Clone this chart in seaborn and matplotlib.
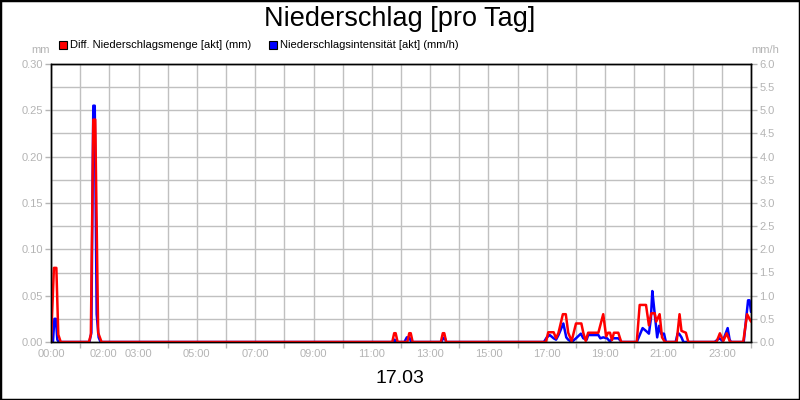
import numpy as np
import pandas as pd
import matplotlib
matplotlib.use("Agg")
import matplotlib.pyplot as plt
import matplotlib.transforms as mtransforms
from matplotlib.patches import Rectangle
from matplotlib.ticker import FuncFormatter
import seaborn as sns

# ---------------- data ----------------
title = "Niederschlag [pro Tag]"
date_label = "17.03"
red_label = "Diff. Niederschlagsmenge [akt] (mm)"
blue_label = "Niederschlagsintensität [akt] (mm/h)"
left_unit = "mm"
right_unit = "mm/h"

red_minutes = [0, 6, 11, 15, 20,
               78, 82, 87, 91, 97, 104,
               702, 706, 709, 713,
               733, 737, 740, 744,
               802, 806, 809, 813,
               1018, 1023, 1034, 1039, 1044, 1053, 1059, 1064, 1071, 1080, 1091,
               1095, 1100, 1105, 1126, 1136, 1142, 1146, 1150, 1154, 1158, 1167, 1173,
               1205, 1211, 1224, 1230, 1235, 1242, 1245, 1252, 1257, 1263,
               1287, 1293, 1297, 1306, 1311,
               1369, 1376, 1383, 1390, 1397,
               1424, 1432, 1440]
red_mm = [0, 0.08, 0.08, 0.008, 0,
          0, 0.008, 0.24, 0.24, 0.01, 0,
          0, 0.0095, 0.0095, 0,
          0, 0.0095, 0.0095, 0,
          0, 0.0095, 0.0095, 0,
          0, 0.0105, 0.0105, 0.004, 0.01, 0.03, 0.03, 0.01, 0.001, 0.02, 0.02,
          0.01, 0.001, 0.01, 0.01, 0.03, 0.006, 0.01, 0.01, 0.002, 0.01, 0.01, 0,
          0, 0.04, 0.04, 0.018, 0.031, 0.031, 0.022, 0.03, 0.005, 0,
          0, 0.03, 0.012, 0.01, 0,
          0, 0.0094, 0.001, 0.0094, 0,
          0, 0.03, 0.022]

blue_minutes = [0, 4, 7, 10, 13, 16,
                79, 83, 87, 90, 94, 98, 102,
                703, 707, 710,
                727, 732, 737, 741,
                803, 807, 810, 813,
                1014, 1020, 1026, 1034, 1039, 1044, 1054, 1060, 1064, 1071, 1080, 1090,
                1095, 1102, 1105, 1126, 1130, 1136, 1144, 1150, 1155, 1167, 1174,
                1205, 1211, 1217, 1225, 1230, 1234, 1237, 1240, 1244, 1247, 1251, 1255, 1261, 1265,
                1285, 1289, 1292, 1297, 1301,
                1365, 1375, 1382, 1392, 1396, 1399,
                1425, 1434, 1437, 1440]
blue_mmh = [0, 0, 0.5, 0.5, 0.05, 0,
            0, 0.2, 5.1, 5.1, 0.6, 0.1, 0,
            0, 0.05, 0,
            0, 0.1, 0.1, 0,
            0, 0.09, 0.09, 0,
            0, 0.1, 0.15, 0.08, 0.05, 0.15, 0.4, 0.1, 0.05, 0, 0.08, 0.18,
            0.08, 0.05, 0.15, 0.15, 0.08, 0.1, 0.08, 0.01, 0.08, 0.08, 0,
            0, 0.15, 0.3, 0.23, 0.18, 0.5, 1.1, 0.8, 0.4, 0.1, 0.35, 0.18, 0.18, 0,
            0, 0.18, 0.18, 0.1, 0,
            0, 0.08, 0.02, 0.3, 0.05, 0,
            0, 0.9, 0.9, 0.65]

x_tick_hours = [0, 2, 3, 5, 7, 9, 11, 13, 15, 17, 19, 21, 23]
x_tick_labels = ["00:00", "02:00", "03:00", "05:00", "07:00", "09:00", "11:00",
                 "13:00", "15:00", "17:00", "19:00", "21:00", "23:00"]
left_ticks = [0.0, 0.05, 0.10, 0.15, 0.20, 0.25, 0.30]
right_ticks = [0.0, 0.5, 1.0, 1.5, 2.0, 2.5, 3.0, 3.5, 4.0, 4.5, 5.0, 5.5, 6.0]

# ---------------- style ----------------
sns.set_theme(style="white")
plt.rcParams["font.family"] = ["Liberation Sans", "DejaVu Sans"]

RED = "#ff0000"
BLUE = "#0000ff"
GRAY = "#b4b4b4"
GRID = "#c0c0c0"

red_df = pd.DataFrame({"hour": np.array(red_minutes) / 60.0, "value": red_mm})
blue_df = pd.DataFrame({"hour": np.array(blue_minutes) / 60.0, "value": blue_mmh})

fig = plt.figure(figsize=(8, 4), dpi=100)
fig.patch.set_facecolor("white")
ax = fig.add_axes([51 / 800, 58 / 400, 700 / 800, 278 / 400])
ax2 = ax.twinx()

# red (left axis) drawn on top of blue (right axis)
ax.set_zorder(ax2.get_zorder() + 1)
ax.patch.set_visible(False)
ax2.patch.set_visible(True)
ax2.patch.set_facecolor("white")

sns.lineplot(data=blue_df, x="hour", y="value", ax=ax2, color=BLUE, linewidth=1.8,
             sort=False, estimator=None)
sns.lineplot(data=red_df, x="hour", y="value", ax=ax, color=RED, linewidth=1.8,
             sort=False, estimator=None)

ax.set_xlim(0, 24)
ax.set_ylim(0, 0.30)
ax2.set_ylim(0, 6.0)
for a in (ax, ax2):
    a.set_xlabel("")
    a.set_ylabel("")

# x ticks
ax.set_xticks(x_tick_hours)
ax.set_xticklabels(x_tick_labels)
minor_hours = [h for h in range(1, 25) if h not in x_tick_hours]
ax.set_xticks(minor_hours, minor=True)
ax.tick_params(axis="x", which="major", length=0, pad=5, labelcolor=GRAY, labelsize=8)
ax.tick_params(axis="x", which="minor", length=4, width=1, color=GRAY, bottom=True)
for lbl in ax.get_xticklabels():
    if lbl.get_text() == "02:00":
        lbl.set_transform(lbl.get_transform() +
                          mtransforms.ScaledTranslation(-0.06, 0, fig.dpi_scale_trans))

# y ticks
ax.set_yticks(left_ticks)
ax.yaxis.set_major_formatter(FuncFormatter(lambda v, p: f"{v:.2f}"))
ax.tick_params(axis="y", which="major", length=4, width=1, color=GRAY, labelcolor=GRAY,
               labelsize=8, pad=2, left=True)
ax2.set_yticks(right_ticks)
ax2.yaxis.set_major_formatter(FuncFormatter(lambda v, p: f"{v:.1f}"))
ax2.tick_params(axis="y", which="major", length=4, width=1, color=GRAY, labelcolor=GRAY,
                labelsize=8, pad=2, right=True)

# grid drawn on lower axes (behind both lines)
ax.grid(False)
ax2.xaxis.set_visible(True)
ax2.tick_params(axis="x", which="both", bottom=False, top=False,
                labelbottom=False, labeltop=False)
ax2.grid(True, axis="x", which="both", color=GRID, linewidth=1)
ax2.grid(True, axis="y", which="major", color=GRID, linewidth=1)

for a in (ax, ax2):
    for s in a.spines.values():
        s.set_visible(True)
        s.set_color("black")
        s.set_linewidth(1)

# texts
fig.text(0.5, 1 - 25.5 / 400, title, ha="center", va="baseline", fontsize=19.5, color="black")
fig.text(0.5, 1 - 383 / 400, date_label, ha="center", va="baseline", fontsize=14, color="black")
fig.text(40.5 / 800, 1 - 50 / 400, left_unit, ha="center", va="center", fontsize=8, color=GRAY)
fig.text(765 / 800, 1 - 50 / 400, right_unit, ha="center", va="center", fontsize=8, color=GRAY)

# legend (manual squares + text)
for x0, col, lab in ((58.5, RED, red_label), (268.5, BLUE, blue_label)):
    fig.patches.append(Rectangle((x0 / 800, 1 - 48.5 / 400), 8 / 800, 7.5 / 400,
                                 transform=fig.transFigure, facecolor=col,
                                 edgecolor="black", linewidth=0.8))
    fig.text((x0 + 11) / 800, 1 - 45 / 400, lab, ha="left", va="center",
             fontsize=8, color="black")

# figure frame
fig.patches.append(Rectangle((0, 0), 1, 1, transform=fig.transFigure, fill=False,
                             edgecolor="black", linewidth=2.5))

fig.savefig("out.png", dpi=100, facecolor="white")
